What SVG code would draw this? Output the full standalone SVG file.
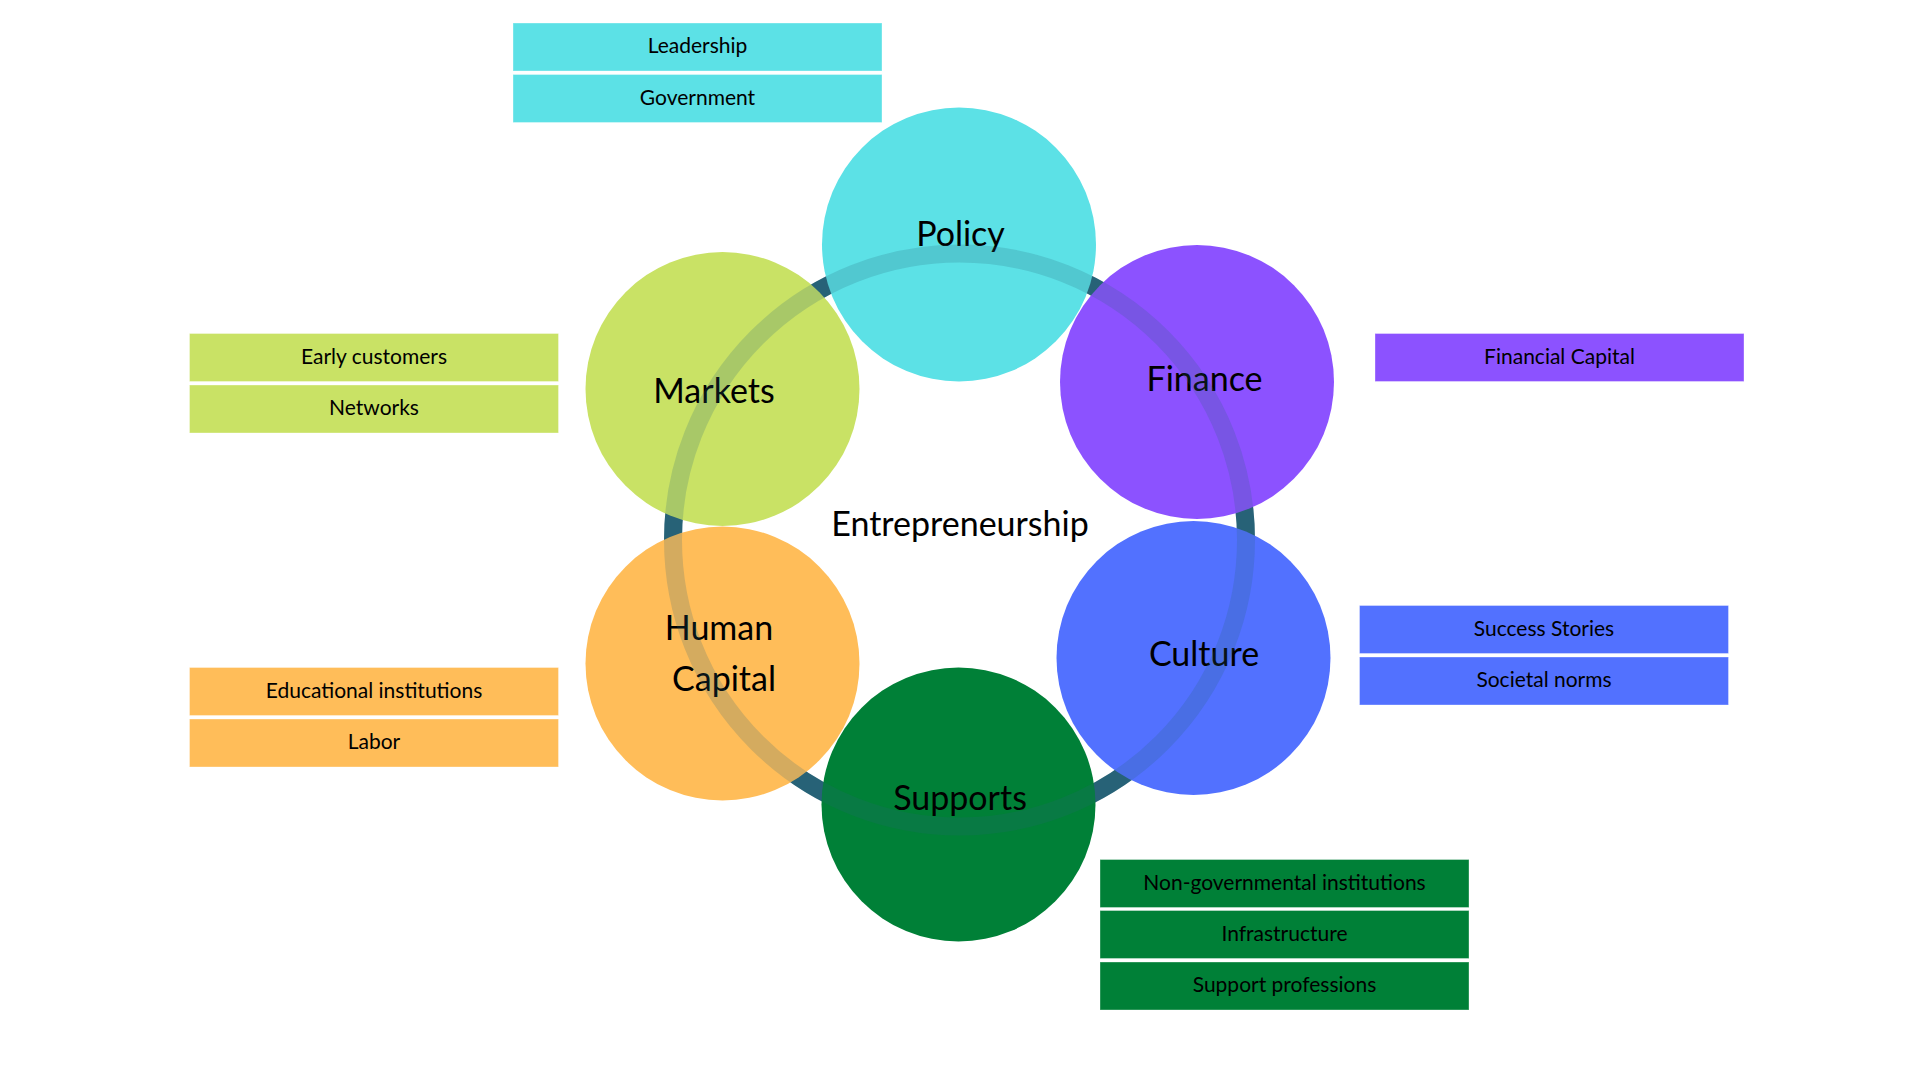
<svg xmlns="http://www.w3.org/2000/svg" xmlns:xlink="http://www.w3.org/1999/xlink" width="1920" height="1080" viewBox="0 0 1920 1080">
<style>
.lbl{font-family:Lato,"Liberation Sans",sans-serif;font-size:34px;fill:#000;text-anchor:middle}
.box{stroke:#ffffff;stroke-opacity:0.35;stroke-width:1}
.bt{font-family:Lato,"Liberation Sans",sans-serif;font-size:21px;fill:#000;text-anchor:middle}
.ring{fill:none;stroke:#276277;stroke-width:18}
.c-policy{fill:#5CE1E6}.c-markets{fill:#C9E265}.c-finance{fill:#8C52FF}
.c-culture{fill:#5271FF}.c-supports{fill:#008037}.c-human{fill:#FFBD59}
</style>
<rect width="1920" height="1080" fill="#ffffff"/>
<g id="connectors">
<circle id="ring" class="ring" cx="959.5" cy="540" r="286.5"/>
</g>
<g id="node-markets">
<circle class="c-markets" cx="722.5" cy="389" r="137"/>
<text class="lbl" x="714" y="402.5">Markets</text>
</g>
<g id="node-human-capital">
<circle class="c-human" cx="722.5" cy="663.5" r="137"/>
<text class="lbl" x="719" y="640">Human</text>
<text class="lbl" x="724" y="691">Capital</text>
</g>
<g id="node-policy">
<circle class="c-policy" cx="959" cy="244.5" r="137"/>
<text class="lbl" x="960.5" y="246">Policy</text>
</g>
<g id="node-supports">
<circle class="c-supports" cx="958.5" cy="804.5" r="137"/>
<text class="lbl" x="960" y="810">Supports</text>
</g>
<g id="node-finance">
<circle class="c-finance" cx="1197" cy="382" r="137"/>
<text class="lbl" x="1204.5" y="391">Finance</text>
</g>
<g id="node-culture">
<circle class="c-culture" cx="1193.5" cy="658" r="137"/>
<text class="lbl" x="1204" y="666">Culture</text>
</g>
<use xlink:href="#ring" opacity="0.2"/>
<g id="node-entrepreneurship">
<text class="lbl" x="960" y="536">Entrepreneurship</text>
</g>
<g id="list-policy">
<rect class="box c-policy" x="513" y="23" width="369" height="48"/>
<text class="bt" x="697.5" y="53">Leadership</text>
<rect class="box c-policy" x="513" y="74.5" width="369" height="48"/>
<text class="bt" x="697.5" y="104.5">Government</text>
</g>
<g id="list-markets">
<rect class="box c-markets" x="189.5" y="333.5" width="369" height="48"/>
<text class="bt" x="374" y="363.5">Early customers</text>
<rect class="box c-markets" x="189.5" y="385" width="369" height="48"/>
<text class="bt" x="374" y="415">Networks</text>
</g>
<g id="list-finance">
<rect class="box c-finance" x="1375" y="333.5" width="369" height="48"/>
<text class="bt" x="1559.5" y="363.5">Financial Capital</text>
</g>
<g id="list-culture">
<rect class="box c-culture" x="1359.5" y="605.5" width="369" height="48"/>
<text class="bt" x="1544" y="636">Success Stories</text>
<rect class="box c-culture" x="1359.5" y="657" width="369" height="48"/>
<text class="bt" x="1544" y="687">Societal norms</text>
</g>
<g id="list-human-capital">
<rect class="box c-human" x="189.5" y="667.5" width="369" height="48"/>
<text class="bt" x="374" y="697.5">Educational institutions</text>
<rect class="box c-human" x="189.5" y="719" width="369" height="48"/>
<text class="bt" x="374" y="749">Labor</text>
</g>
<g id="list-supports">
<rect class="box c-supports" x="1100" y="859.5" width="369" height="48"/>
<text class="bt" x="1284.5" y="889.5">Non-governmental institutions</text>
<rect class="box c-supports" x="1100" y="910.5" width="369" height="48"/>
<text class="bt" x="1284.5" y="940.5">Infrastructure</text>
<rect class="box c-supports" x="1100" y="962" width="369" height="48"/>
<text class="bt" x="1284.5" y="992">Support professions</text>
</g>
</svg>
